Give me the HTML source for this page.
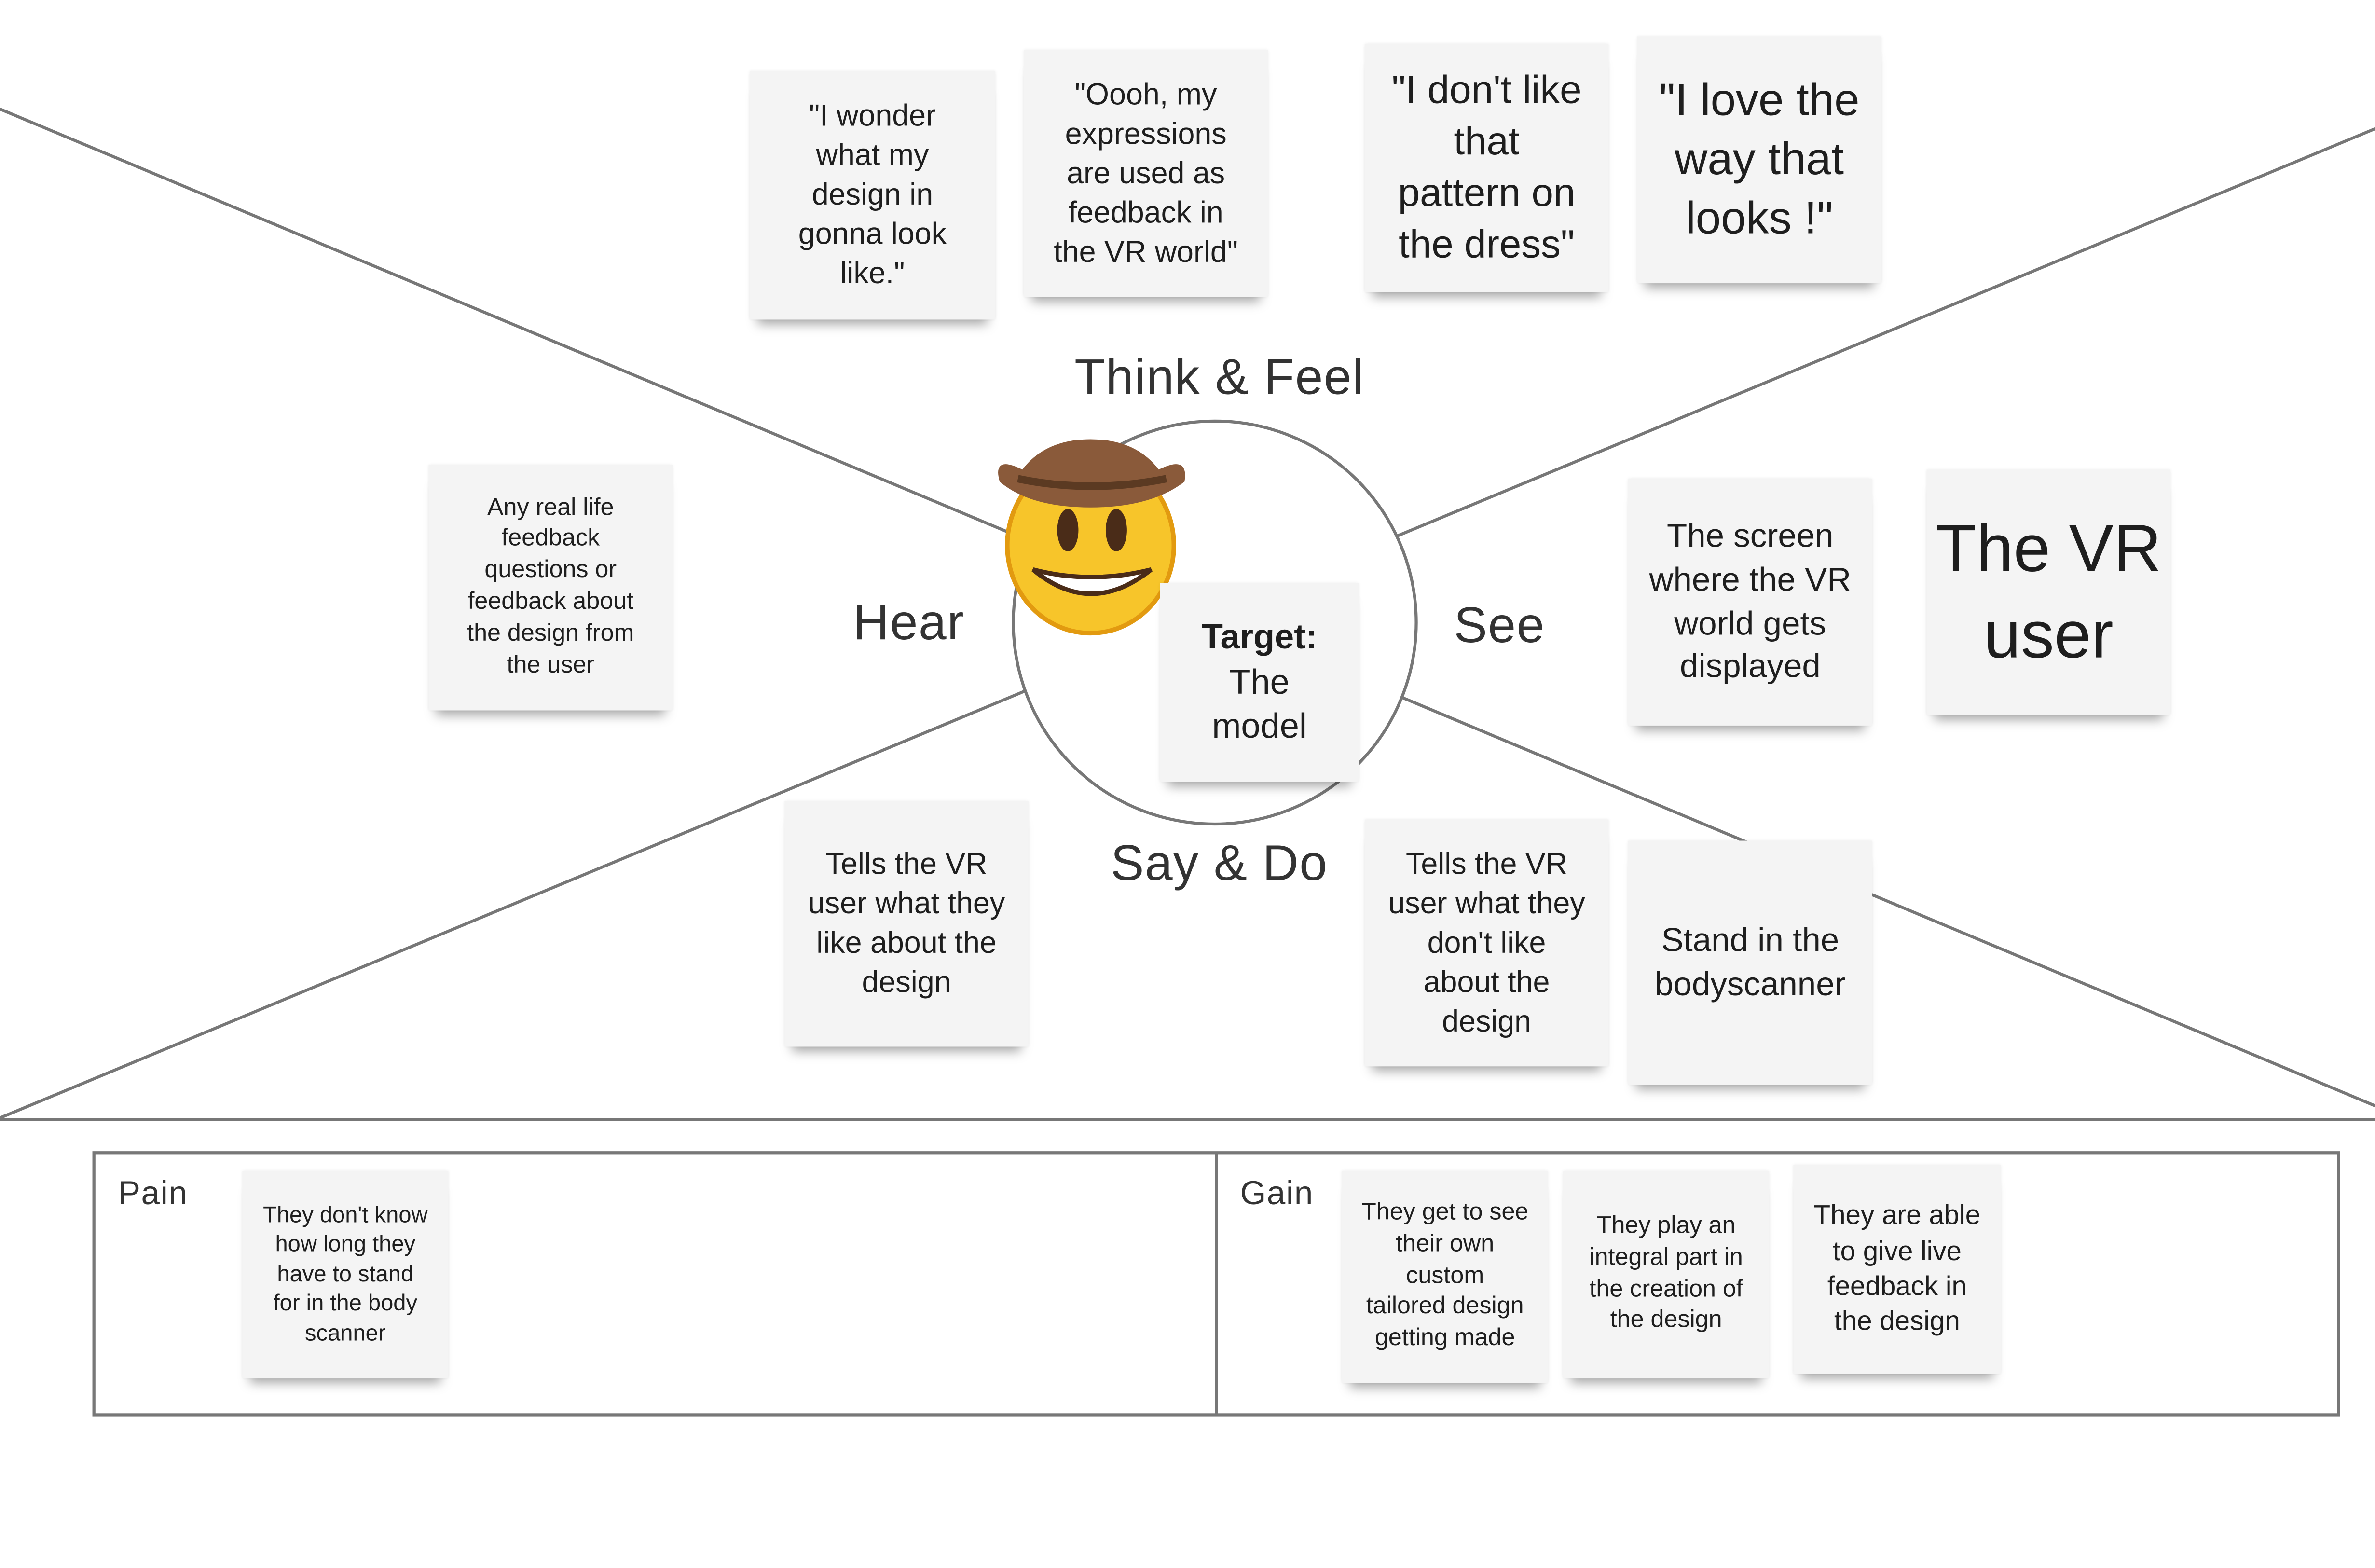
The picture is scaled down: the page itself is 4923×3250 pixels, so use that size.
<!DOCTYPE html>
<html><head><meta charset="utf-8"><style>
html,body{margin:0;padding:0;background:#fff;}
body{width:4923px;height:3250px;overflow:hidden;position:relative;}
#w{position:absolute;left:0;top:0;width:1568px;height:1035px;transform:scale(3.13967);transform-origin:0 0;font-family:"Liberation Sans",sans-serif;}
.s{position:absolute;background:#f4f4f4;display:flex;align-items:center;justify-content:center;text-align:center;color:#1e1e1e;box-shadow:0 8px 7px -5px rgba(0,0,0,.35),0 0 2px rgba(0,0,0,.08);line-height:1.3;box-sizing:border-box;white-space:nowrap;}
.l{position:absolute;color:#333;font-size:33px;letter-spacing:0.5px;transform:translateX(-50%);white-space:nowrap;}
</style></head><body><div id="w">
<svg width="1568" height="1035" style="position:absolute;left:0;top:0">
<line x1="0" y1="72" x2="1568" y2="730" stroke="#777" stroke-width="2"/>
<line x1="1568" y1="85" x2="0" y2="738" stroke="#777" stroke-width="2"/>
<line x1="0" y1="739" x2="1568" y2="739" stroke="#777" stroke-width="2"/>
<circle cx="802" cy="411" r="133" fill="#fff" stroke="#777" stroke-width="2"/>
<rect x="62" y="761" width="1482" height="173" fill="none" stroke="#777" stroke-width="2"/>
<line x1="803" y1="761" x2="803" y2="934" stroke="#777" stroke-width="2"/>
<g>
<ellipse cx="720" cy="360" rx="55" ry="58" fill="#f7c52a"/>
<ellipse cx="720" cy="360" rx="55" ry="58" fill="none" stroke="#e29a10" stroke-width="3"/>
<path d="M660 318 Q655 300 675 310 Q690 290 720 290 Q750 290 765 310 Q785 300 782 318 Q760 335 720 335 Q680 335 660 318Z" fill="#8a5a3a"/>
<path d="M672 316 Q720 326 770 316" stroke="#5b3a22" stroke-width="5" fill="none"/>
<ellipse cx="705" cy="350" rx="7" ry="14" fill="#4a2c18"/>
<ellipse cx="737" cy="350" rx="7" ry="14" fill="#4a2c18"/>
<path d="M682 376 Q720 408 760 376 Q720 386 682 376Z" fill="#fff" stroke="#4a2c18" stroke-width="3"/>
</g>
</svg>
<div class="l" style="left:805px;top:230px">Think &amp; Feel</div>
<div class="l" style="left:600px;top:392px">Hear</div>
<div class="l" style="left:990px;top:394px">See</div>
<div class="l" style="left:805px;top:551px">Say &amp; Do</div>
<div class="l" style="left:101px;top:775px;font-size:22px">Pain</div>
<div class="l" style="left:843px;top:775px;font-size:22px">Gain</div>

<div class="s" style="left:495px;top:47px;width:162px;height:164px;font-size:20px">"I wonder<br>what my<br>design in<br>gonna look<br>like."</div>
<div class="s" style="left:676px;top:33px;width:161px;height:163px;font-size:20px">"Oooh, my<br>expressions<br>are used as<br>feedback in<br>the VR world"</div>
<div class="s" style="left:901px;top:29px;width:161px;height:164px;font-size:26px">"I don't like<br>that<br>pattern on<br>the dress"</div>
<div class="s" style="left:1081px;top:24px;width:161px;height:163px;font-size:30px">"I love the<br>way that<br>looks !"</div>
<div class="s" style="left:283px;top:307px;width:161px;height:162px;font-size:16px">Any real life<br>feedback<br>questions or<br>feedback about<br>the design from<br>the user</div>
<div class="s" style="left:1075px;top:316px;width:161px;height:163px;font-size:22px">The screen<br>where the VR<br>world gets<br>displayed</div>
<div class="s" style="left:1272px;top:310px;width:161px;height:162px;font-size:44px;line-height:1.3">The VR<br>user</div>
<div class="s" style="left:766px;top:385px;width:131px;height:131px;font-size:23px"><div><b>Target:</b><br>The<br>model</div></div>
<div class="s" style="left:518px;top:529px;width:161px;height:162px;font-size:20px">Tells the VR<br>user what they<br>like about the<br>design</div>
<div class="s" style="left:901px;top:541px;width:161px;height:163px;font-size:20px">Tells the VR<br>user what they<br>don't like<br>about the<br>design</div>
<div class="s" style="left:1075px;top:555px;width:161px;height:161px;font-size:22px">Stand in the<br>bodyscanner</div>
<div class="s" style="left:160px;top:773px;width:136px;height:137px;font-size:15px">They don't know<br>how long they<br>have to stand<br>for in the body<br>scanner</div>
<div class="s" style="left:886px;top:773px;width:136px;height:140px;font-size:16px">They get to see<br>their own<br>custom<br>tailored design<br>getting made</div>
<div class="s" style="left:1032px;top:773px;width:136px;height:137px;font-size:16px">They play an<br>integral part in<br>the creation of<br>the design</div>
<div class="s" style="left:1184px;top:769px;width:137px;height:138px;font-size:18px">They are able<br>to give live<br>feedback in<br>the design</div>
</div></body></html>
